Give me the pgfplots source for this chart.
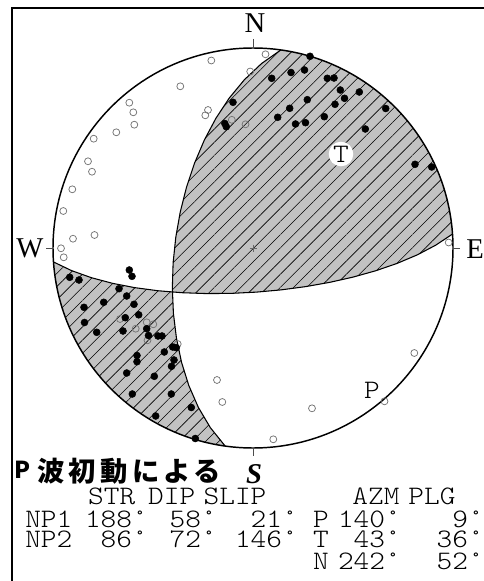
\documentclass[border=0pt]{standalone}
\usepackage{pgfplots}
\pgfplotsset{compat=1.18}
\usetikzlibrary{patterns.meta}
\usepackage{fontspec}
\setmainfont{Liberation Serif}
\newfontfamily\jp{Noto Sans CJK JP}
\newfontfamily\mono{lmmonolt10-regular}[Extension=.otf, FakeStretch=1.12]
\definecolor{shade}{gray}{0.76}
\definecolor{ocol}{gray}{0.45}
\begin{document}
\begin{tikzpicture}
\begin{axis}[name=ax, scale only axis, width=363pt, height=435.75pt,
  xmin=0, xmax=484, ymin=0, ymax=581, y dir=reverse, hide axis, clip=false]
% frame
\draw[line width=1.4pt] (axis cs:12,590) -- (axis cs:12,8) -- (axis cs:490,8);
% compressional quadrants
\addplot[draw=none, fill=shade, postaction={pattern={Lines[angle=45,distance=7pt,line width=0.45pt]}, pattern color=black}] coordinates {
(280.83,49.95) (261.58,63.51) (244.42,79.70) (229.23,98.09) (215.88,118.32) (204.33,140.08) (194.55,163.11) (186.53,187.13) (180.27,211.89) (175.80,237.15) (173.13,262.66) (172.33,288.19) (172.5,292.0) (181.89,292.70) (206.36,293.57) (231.16,293.37) (256.09,292.14) (280.95,289.89) (305.53,286.63) (329.64,282.37) (353.06,277.10) (375.58,270.80) (397.02,263.43) (417.14,254.93) (435.71,245.19) (452.51,234.05) (449.96,213.27) (445.25,192.87) (438.44,173.08) (429.59,154.11) (418.81,136.16) (406.21,119.44) (391.93,104.13) (376.13,90.40) (358.98,78.39) (340.67,68.24) (321.40,60.06) (301.38,53.94) (280.83,49.95)};
\addplot[draw=none, fill=shade, postaction={pattern={Lines[angle=45,distance=7pt,line width=0.45pt]}, pattern color=black}] coordinates {
(172.5,292.0) (173.42,313.49) (176.47,338.32) (181.57,362.43) (188.82,385.55) (198.37,407.42) (210.39,427.71) (225.17,446.05) (204.62,442.06) (184.60,435.94) (165.33,427.76) (147.02,417.61) (129.87,405.60) (114.07,391.87) (99.79,376.56) (87.19,359.84) (76.41,341.89) (67.56,322.92) (60.75,303.13) (56.04,282.73) (53.49,261.95) (71.67,270.65) (91.43,277.71) (112.53,283.33) (134.78,287.64) (157.97,290.74) (172.5,292.0)};
% nodal planes
\addplot[black, line width=0.8pt] coordinates {
(225.17,446.05) (210.39,427.71) (198.37,407.42) (188.82,385.55) (181.57,362.43) (176.47,338.32) (173.42,313.49) (172.33,288.19) (173.13,262.66) (175.80,237.15) (180.27,211.89) (186.53,187.13) (194.55,163.11) (204.33,140.08) (215.88,118.32) (229.23,98.09) (244.42,79.70) (261.58,63.51) (280.83,49.95)};
\addplot[black, line width=0.8pt] coordinates {
(452.51,234.05) (435.71,245.19) (417.14,254.93) (397.02,263.43) (375.58,270.80) (353.06,277.10) (329.64,282.37) (305.53,286.63) (280.95,289.89) (256.09,292.14) (231.16,293.37) (206.36,293.57) (181.89,292.70) (157.97,290.74) (134.78,287.64) (112.53,283.33) (91.43,277.71) (71.67,270.65) (53.49,261.95)};
% outline, ticks, centre
\draw[line width=1.1pt] (axis cs:253,248) circle[radius=150pt];
\draw[line width=0.5pt, black!70] (axis cs:253,39) -- (axis cs:253,48);
\draw[line width=0.5pt, black!70] (axis cs:253,448) -- (axis cs:253,456);
\draw[line width=0.5pt, black!70] (axis cs:46,248) -- (axis cs:53,248);
\draw[line width=0.5pt, black!70] (axis cs:453,248) -- (axis cs:460,248);
\draw[line width=0.4pt, black!60] (axis cs:249.5,248) -- (axis cs:256.5,248) (axis cs:253,244.5) -- (axis cs:253,251.5);
% dilatation (open)
\addplot[only marks, mark=o, mark size=2.6pt, ocol, mark options={line width=0.55pt}] coordinates {
(265.5,54.3) (211.3,60.5) (250.2,71.5) (180.3,86.3) (129.3,102.7) (133.3,112.3) (208,110) (205.3,115.3) (231.8,119.8) (245.5,124.3) (134.3,124.7) (116.3,132.3) (93.7,138.7) (88,161.3) (92,171.7) (72.3,189.3)
(63.3,211) (73,238.7) (94.5,235) (61,248.3) (63.7,257.3) (448.7,242.5)
(120,319) (135.7,328.7) (146.7,322.3) (153.3,324.3) (147.5,340.3) (177.7,344) (217,380) (222.3,402) (414.3,353) (384.5,401.3) (312,408.3) (273.3,439.3)};
% compression (filled)
\addplot[only marks, mark=*, mark size=2.6pt, black] coordinates {
(310,56.3) (291,72.5) (304.5,70) (271.7,78.3) (327.3,78.3) (334,78) (340.3,90) (359.3,92) (344.5,98.3) (307.3,99.7) (335,104.3) (233,102.3) (289.7,108.3) (385.7,108.5) (277.7,117.3) (324.3,116.7) (295.5,124) (305.5,122.7) (224.8,123.5) (226.3,126.7) (365.3,129) (415,164.3) (431.7,167)
(129.3,270) (132,276.3) (69.7,277.3) (79,280) (119,288.7) (126.7,296) (103.7,302.3) (84,307.3) (134,304.3) (138.7,314.8) (125.3,317.7) (84.5,322.5) (96.7,332.3) (123,331) (146.7,328.7) (148.5,335.5) (158,336) (162,336) (172.7,347) (176.3,347.7) (164.3,352) (137,355.5) (137,361.7) (174,360) (171.5,366.3) (126.7,373) (154.3,376.3) (132.3,394) (171.3,394) (191.3,407.5) (155.7,416) (195.3,438.5)};
% T and P axes
\fill[white] (axis cs:341,154) circle[radius=9.2pt];
\node[inner sep=0pt, font=\mono\fontsize{20}{20}\selectfont] at (axis cs:341,154) {T};
\node[inner sep=0pt, font=\mono\fontsize{20}{20}\selectfont] at (axis cs:372,390) {P};
% direction labels
\node[inner sep=0pt, anchor=base, font=\fontsize{21.5}{22}\selectfont] at (axis cs:255,33) {N};
\node[inner sep=0pt, anchor=base, font=\fontsize{21.5}{22}\selectfont] at (axis cs:30,257) {W};
\node[inner sep=0pt, anchor=base, font=\fontsize{21.5}{22}\selectfont] at (axis cs:475,258) {E};
\node[inner sep=0pt, anchor=base, font=\bfseries\itshape\fontsize{21.5}{22}\selectfont] at (axis cs:254,483) {S};
% title
\node[inner sep=0pt, anchor=base, font=\jp\bfseries\fontsize{17.5}{18}\selectfont] at (axis cs:22.5,478.5) {P};
\node[inner sep=0pt, anchor=base, font=\jp\bfseries\fontsize{20.5}{21}\selectfont] at (axis cs:50.8,481) {波};
\node[inner sep=0pt, anchor=base, font=\jp\bfseries\fontsize{20.5}{21}\selectfont] at (axis cs:82.5,481) {初};
\node[inner sep=0pt, anchor=base, font=\jp\bfseries\fontsize{20.5}{21}\selectfont] at (axis cs:114,481) {動};
\node[inner sep=0pt, anchor=base, font=\jp\bfseries\fontsize{20.5}{21}\selectfont] at (axis cs:146,481) {に};
\node[inner sep=0pt, anchor=base, font=\jp\bfseries\fontsize{20.5}{21}\selectfont] at (axis cs:176.7,481) {よ};
\node[inner sep=0pt, anchor=base, font=\jp\bfseries\fontsize{20.5}{21}\selectfont] at (axis cs:206.7,481) {る};
% table
\begin{scope}[every node/.style={inner sep=0pt, text height=11pt, text depth=0pt, font=\mono\fontsize{20}{18}\selectfont}]
\node[anchor=base] at (axis cs:111.7,504.5) {STR};
\node[anchor=base] at (axis cs:171.7,504.5) {DIP};
\node[anchor=base] at (axis cs:235,504.5) {SLIP};
\node[anchor=base] at (axis cs:376,504.5) {AZM};
\node[anchor=base] at (axis cs:432,504.5) {PLG};
\node[anchor=base west] at (axis cs:25,527.5) {NP1};
\node[anchor=base west] at (axis cs:25,547.5) {NP2};
\node[anchor=base east] at (axis cs:148,527.5) {188°};
\node[anchor=base east] at (axis cs:217,527.5) {58°};
\node[anchor=base east] at (axis cs:298,527.5) {21°};
\node[anchor=base] at (axis cs:321,527.5) {P};
\node[anchor=base east] at (axis cs:401,527.5) {140°};
\node[anchor=base east] at (axis cs:484,527.5) {9°};
\node[anchor=base east] at (axis cs:148,547.5) {86°};
\node[anchor=base east] at (axis cs:217,547.5) {72°};
\node[anchor=base east] at (axis cs:298,547.5) {146°};
\node[anchor=base] at (axis cs:321,547.5) {T};
\node[anchor=base east] at (axis cs:401,547.5) {43°};
\node[anchor=base east] at (axis cs:484,547.5) {36°};
\node[anchor=base] at (axis cs:321,569) {N};
\node[anchor=base east] at (axis cs:401,569) {242°};
\node[anchor=base east] at (axis cs:484,569) {52°};
\end{scope}
\end{axis}
\pgfresetboundingbox
\useasboundingbox (ax.south west) rectangle (ax.north east);
\end{tikzpicture}
\end{document}
